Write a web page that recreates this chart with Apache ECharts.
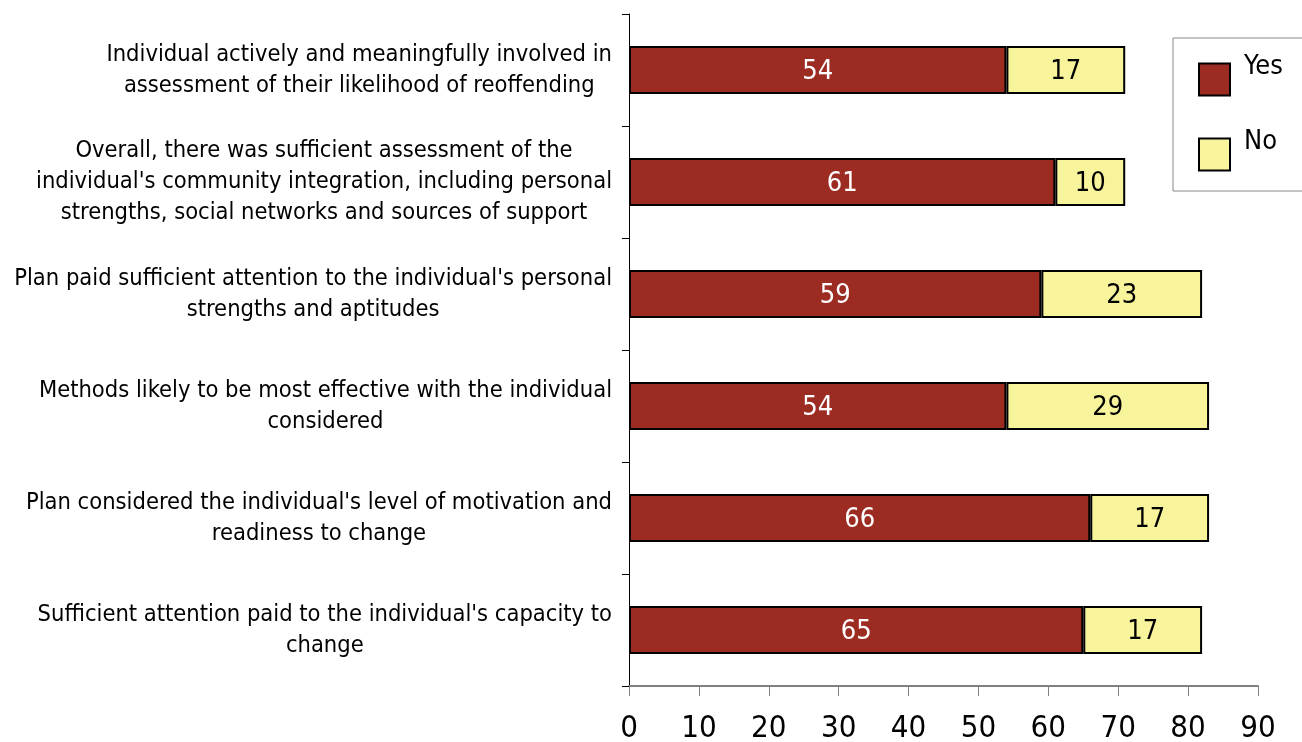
<!DOCTYPE html>
<html>
<head>
<meta charset="utf-8">
<script src="https://cdn.jsdelivr.net/npm/echarts@6/dist/echarts.min.js"></script>
<style>
  html, body { margin: 0; padding: 0; background: #fff; }
  #chart { width: 1302px; height: 742px; }
</style>
</head>
<body>
<div id="chart"></div>
<script>
// Assessment and planning criteria (top to bottom)
const categories = [
  "Individual actively and meaningfully involved in\nassessment of their likelihood of reoffending",
  "Overall, there was sufficient assessment of the\nindividual's community integration, including personal\nstrengths, social networks and sources of support",
  "Plan paid sufficient attention to the individual's personal\nstrengths and aptitudes",
  "Methods likely to be most effective with the individual\nconsidered",
  "Plan considered the individual's level of motivation and\nreadiness to change",
  "Sufficient attention paid to the individual's capacity to\nchange"
];
const yesValues = [54, 61, 59, 54, 66, 65];
const noValues = [17, 10, 23, 29, 17, 17];
const xTicks = [0, 10, 20, 30, 40, 50, 60, 70, 80, 90];

const FONT = "'DejaVu Sans Condensed', 'DejaVu Sans', sans-serif";

const chart = echarts.init(document.getElementById('chart'));
chart.setOption({
  animation: false,
  textStyle: { fontFamily: FONT },
  grid: { left: 629, right: 44, top: 14, bottom: 56, containLabel: false, outerBoundsMode: 'none' },
  legend: {
    orient: 'vertical',
    left: 1173,
    top: 38,
    padding: [15, 60, 10, 25],
    itemGap: 22,
    itemWidth: 31,
    itemHeight: 32,
    icon: 'rect',
    borderColor: '#888',
    borderWidth: 1,
    formatter: function (name) { return '{t|' + name + '}\n{t| }'; },
    textStyle: {
      color: '#000',
      fontFamily: FONT,
      rich: { t: { fontSize: 27, lineHeight: 26, color: '#000', fontFamily: FONT, padding: [0, 0, 0, 9] } }
    },
    data: ['Yes', 'No']
  },
  xAxis: {
    type: 'value',
    min: xTicks[0],
    max: xTicks[xTicks.length - 1],
    interval: 10,
    splitLine: { show: false },
    axisLine: { show: true, lineStyle: { color: '#808080', width: 2 } },
    axisTick: { show: true, inside: false, length: 10, lineStyle: { color: '#808080', width: 1 } },
    axisLabel: { fontSize: 31, color: '#000', margin: 27, fontFamily: FONT }
  },
  yAxis: {
    type: 'category',
    inverse: true,
    data: categories,
    axisLine: { show: true, lineStyle: { color: '#000', width: 1 } },
    axisTick: { show: true, length: 7, lineStyle: { color: '#000' } },
    axisLabel: {
      margin: 17,
      align: 'right',
      fontSize: 23.5,
      lineHeight: 31,
      color: '#000',
      fontFamily: FONT,
      formatter: function (v) {
        return v.split('\n').map(function (l) { return '{c|' + l + '}'; }).join('\n');
      },
      rich: { c: { align: 'center', fontSize: 23.5, lineHeight: 31, color: '#000', fontFamily: FONT } }
    }
  },
  series: [
    {
      name: 'Yes',
      type: 'bar',
      stack: 'total',
      barWidth: 48,
      data: yesValues,
      itemStyle: { color: '#9C2B22', borderColor: '#000', borderWidth: 2 },
      label: { show: true, position: 'inside', color: '#fff', fontSize: 27, fontFamily: FONT, offset: [0, 2] }
    },
    {
      name: 'No',
      type: 'bar',
      stack: 'total',
      barWidth: 48,
      data: noValues,
      itemStyle: { color: '#F8F49C', borderColor: '#000', borderWidth: 2 },
      label: { show: true, position: 'inside', color: '#000', fontSize: 27, fontFamily: FONT, offset: [0, 2] }
    }
  ]
});
</script>
</body>
</html>
